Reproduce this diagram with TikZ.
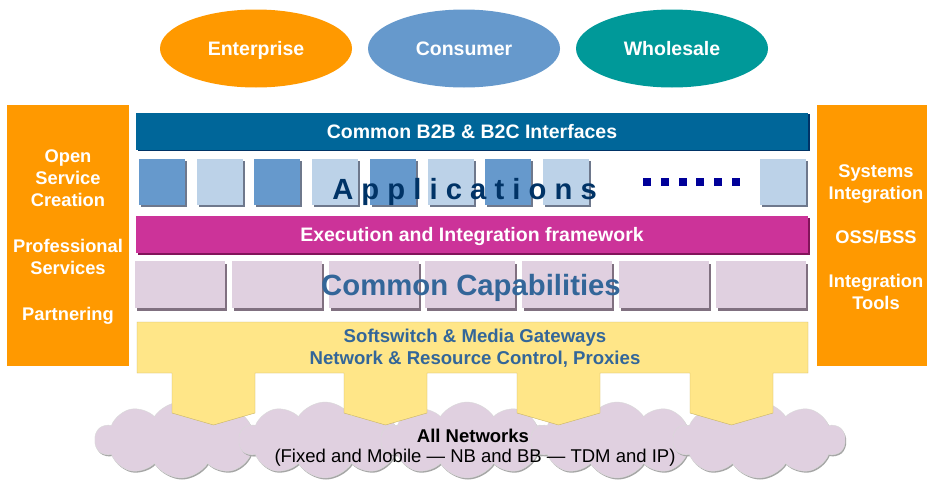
\documentclass[tikz,border=0pt]{standalone}
\usepackage{fontspec}
\setmainfont{Liberation Sans}
\usetikzlibrary{shapes.geometric, shapes.symbols, shadows}

\definecolor{enterorange}{RGB}{255,153,0}
\definecolor{consumerblue}{RGB}{102,153,204}
\definecolor{wholesaleteal}{RGB}{0,153,153}
\definecolor{ifaceblue}{RGB}{0,102,153}
\definecolor{ifaceshadow}{RGB}{0,51,102}
\definecolor{appdark}{RGB}{102,153,204}
\definecolor{applight}{RGB}{188,210,232}
\definecolor{appshadow}{RGB}{110,120,140}
\definecolor{apptext}{RGB}{0,51,102}
\definecolor{dotblue}{RGB}{0,0,153}
\definecolor{execmagenta}{RGB}{204,51,153}
\definecolor{execshadow}{RGB}{130,20,90}
\definecolor{capfill}{RGB}{224,208,224}
\definecolor{capshadow}{RGB}{128,112,128}
\definecolor{captext}{RGB}{51,102,153}
\definecolor{switchyellow}{RGB}{255,230,136}
\definecolor{switchedge}{RGB}{200,180,100}
\definecolor{cloudfill}{RGB}{224,208,224}

\begin{document}
\begin{tikzpicture}[x=1pt, y=-1pt]
				\tikzstyle{market}=[ellipse, inner sep=0pt, minimum width=192pt, minimum height=78pt, text height=14pt, text depth=0pt, text=white, font=\bfseries\fontsize{19.5}{22}\selectfont]
				\tikzstyle{side}=[fill=enterorange, inner sep=0pt, minimum height=261pt, text=white, align=center, font=\bfseries\fontsize{18.3}{22}\selectfont]
				\tikzstyle{bar}=[inner sep=0pt, minimum width=672pt, minimum height=37pt, text height=14pt, text depth=0pt, text=white, font=\bfseries\fontsize{19.5}{22}\selectfont]
				\tikzstyle{app}=[inner sep=0pt, minimum size=46pt, general shadow={fill=appshadow, shadow xshift=2pt, shadow yshift=-2pt}]
				\tikzstyle{capbox}=[inner sep=0pt, minimum width=90pt, minimum height=47pt, fill=capfill, general shadow={fill=capshadow, shadow xshift=2pt, shadow yshift=-2.5pt}]
				\tikzstyle{net}=[cloud, cloud puffs=10, cloud puff arc=115, cloud ignores aspect, minimum width=172pt, minimum height=76pt, fill=cloudfill, draw=white!70!gray, thin, general shadow={fill=gray!70, shadow xshift=1pt, shadow yshift=-1.5pt}]
				\tikzstyle{label}=[inner sep=0pt, align=center, font=\fontsize{18.5}{22}\selectfont]

				\useasboundingbox[fill=white] (0,0) rectangle (927,482);

				\node[market, fill=enterorange] at (256, 48.5) (E) {Enterprise};
				\node[market, fill=consumerblue] at (464, 48.5) (C) {Consumer};
				\node[market, fill=wholesaleteal] at (672, 48.5) (W) {Wholesale};

				\node[side, minimum width=122pt] at (68, 235.5) (left)
					{\rule{0pt}{16pt}Open\\Service\\Creation\\[23.5pt]Professional\\Services\\[24pt]Partnering};
				\node[side, minimum width=118pt] at (876, 235.5) (right)
					{\rule{0pt}{16pt}Systems\\Integration\\[22pt]OSS/BSS\\[22pt]Integration\\Tools};

				\node[bar, fill=ifaceblue, general shadow={fill=ifaceshadow, shadow xshift=1.5pt, shadow yshift=-1.5pt}] at (472, 131) (iface) {Common B2B \& B2C Interfaces};

				\foreach \i/\c in {1/appdark, 2/applight, 3/appdark, 4/applight, 5/appdark, 6/applight, 7/appdark, 8/applight}
					\node[app, fill=\c] at ({162+57.7*(\i-1)}, 182) (app\i) {};
				\node[app, fill=applight] at (783, 182) (app9) {};
				\foreach \k in {0,...,5}
					\fill[dotblue] ({643+17.8*\k}, 177.5) rectangle +(8, 8);
				\node[inner sep=0pt, text height=21pt, text depth=0pt, text=apptext, font=\bfseries\fontsize{29.2}{30}\selectfont] at (464.5, 189) (apps) {A p p l i c a t i o n s};

				\node[bar, fill=execmagenta, general shadow={fill=execshadow, shadow xshift=1.5pt, shadow yshift=-1.5pt}] at (472, 234.5) (exec) {Execution and Integration framework};

				\foreach \i in {1,...,7}
					\node[capbox] at ({180+96.8*(\i-1)}, 284.5) (cap\i) {};
				\node[inner sep=0pt, text height=21pt, text depth=0pt, text=captext, font=\bfseries\fontsize{29.3}{30}\selectfont] at (471, 285) (caps) {Common Capabilities};

				\foreach \i/\x in {1/181, 2/325, 3/467, 4/617, 5/759}
					\node[net] at (\x, 440) (cloud\i) {};

				\draw[fill=switchyellow, draw=switchedge, thin] (137,322) -- (808,322) -- (808,373)
					foreach \c in {731.5,558.5,385.5,213.5} { -- (\c+41.5,373) -- (\c+41.5,413) -- (\c,425) -- (\c-41.5,413) -- (\c-41.5,373) }
					-- (137,373) -- cycle;
				\node[label, text=captext, font=\bfseries\fontsize{18.6}{22}\selectfont] at (475, 348) (switch)
					{Softswitch \& Media Gateways\\Network \& Resource Control, Proxies};

				\node[label, font=\bfseries\fontsize{18.5}{22}\selectfont] at (473, 436) (allnet) {All Networks};
				\node[label] at (475, 458) (nettypes) {(Fixed and Mobile — NB and BB — TDM and IP)};
		  \end{tikzpicture}
\end{document}
